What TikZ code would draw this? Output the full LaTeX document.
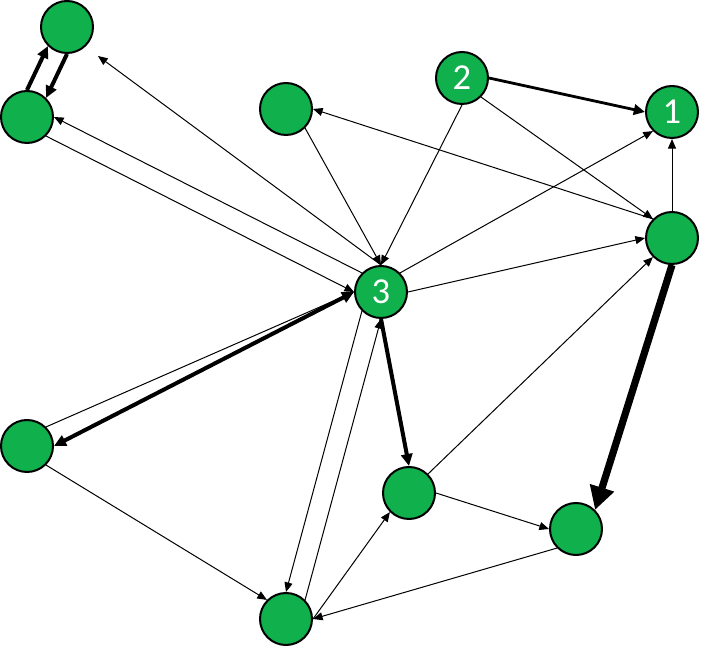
\documentclass[tikz,border=0pt]{standalone}
\usepackage{fontspec}
\setmainfont{Carlito}
\usetikzlibrary{arrows.meta}
\definecolor{nodegreen}{RGB}{16,176,76}

\begin{document}
\begin{tikzpicture}[x=0.25mm, y=-0.25mm,
        vertex/.style = {circle, draw, fill=nodegreen, line width = 0.5mm, minimum size = 13mm, inner sep = 0pt, text=white, font=\fontsize{26}{26}\selectfont},
        thin/.style = {-{Triangle[length=2.4mm, width=2mm]}, line width = 0.25mm},
        medium/.style = {-{Triangle[length=2.8mm, width=2.6mm]}, line width = 0.7mm},
        heavy/.style = {-{Triangle[length=3mm, width=2.8mm]}, line width = 1mm},
        both heavy/.style = {{Triangle[length=3mm, width=2.8mm]}-{Triangle[length=3mm, width=2.8mm]}, line width = 1mm},
        huge/.style = {-{Triangle[length=5.8mm, width=6mm]}, line width = 1.8mm}]
        \useasboundingbox (0, 0) rectangle (705, 647);

        \node [vertex] (a) at (67, 27) {};
        \node [vertex] (b) at (27, 117) {};
        \node [vertex] (c) at (286, 109) {};
        \node [vertex] (n2) at (462, 78) {2};
        \node [vertex] (n1) at (672, 112) {1};
        \node [vertex] (d) at (672, 238) {};
        \node [vertex] (n3) at (381, 292) {3};
        \node [vertex] (e) at (27, 446) {};
        \node [vertex] (f) at (409, 493) {};
        \node [vertex] (g) at (576, 529) {};
        \node [vertex] (h) at (286, 619) {};
        \coordinate (agap) at (98, 56);

        % top left pair
        \draw [heavy] (a.south) -- (b.north east);
        \draw [heavy] (b.north) -- (a.south west);

        % thin links
        \draw [thin] (n3.north) -- (agap);
        \draw [thin] (n3.north west) -- (b.east);
        \draw [thin] (b.south east) -- (n3.west);
        \draw [thin] (c.south east) -- (n3.north);
        \draw [thin] (n2.south) -- (n3.north);
        \draw [thin] (d.north west) -- (c.east);
        \draw [thin] (n2.south east) -- (d.north west);
        \draw [thin] (n3.north east) -- (n1.south west);
        \draw [thin] (n3.east) -- (d.west);
        \draw [thin] (d.north) -- (n1.south);
        \draw [thin] (f.north east) -- (d.south west);
        \draw [thin] (e.north east) -- (n3.west);
        \draw [thin] (n3.south west) -- (h.north);
        \draw [thin] (h.north east) -- (n3.south);
        \draw [thin] (e.south east) -- (h.north west);
        \draw [thin] (h.east) -- (f.south west);
        \draw [thin] (f.east) -- (g.west);
        \draw [thin] (g.south west) -- (h.east);

        % heavy links
        \draw [medium] (n2.east) -- (n1.west);
        \draw [both heavy] (n3.west) -- (e.east);
        \draw [heavy] (n3.south) -- (f.north);
        \draw [huge] (d.south) -- (g.north east);
    \end{tikzpicture}
\end{document}
